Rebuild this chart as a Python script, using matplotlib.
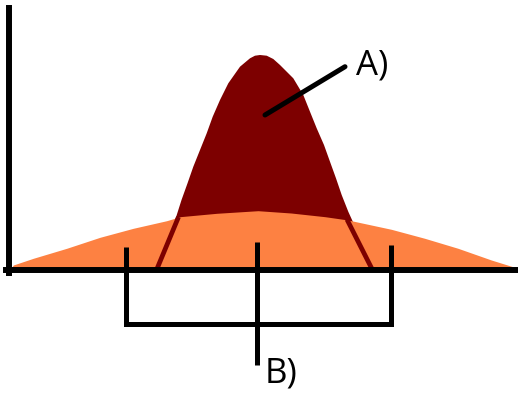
import matplotlib
matplotlib.use('Agg')
import matplotlib.pyplot as plt

# ==== values (origin at the corner of the axes) ====
# broad curve (orange)
orange_x = [3, 4.3, 24.3, 57.7, 91, 124.3, 157.7, 171, 207.7, 249, 282, 316, 339,
            382.3, 415.7, 449, 482.3, 509]
orange_y = [3, 5, 11.7, 21.7, 32.7, 41.7, 49.3, 53.3, 56.7, 59.3, 57, 53.3, 50,
            40.7, 31.7, 21.7, 10, 1.7]

# narrow curve (dark red), left leg -> peak -> right leg
red_x = [145.5, 157.7, 167.2, 172.5, 178.5, 184.3, 191, 197.7, 203.7, 211, 219.3, 231,
         241, 246, 251, 257.7, 264.3, 271, 284.3, 294.3, 301, 307.7, 315, 321, 327,
         332.7, 339.3, 365.7]
red_y = [0, 30, 53.3, 70, 86.7, 103.3, 120, 136.7, 153.3, 170, 186.7, 203.3,
         211.7, 214.3, 215, 214.3, 211, 205, 191.7, 175, 158.3, 141.7, 125, 108.3,
         91.7, 75, 58.3, 0]

# the legs of the dark curve where they cross the orange (centre lines)
left_leg_x = [147.5, 169.5]
left_leg_y = [0, 53]
right_leg_x = [363.5, 338]
right_leg_y = [0, 50.5]

# bracket under the axis and its stem
bracket_x = [116.7, 116.7, 381.5, 381.5]
bracket_y = [23.3, -54, -54, 25]
stem_x = [247.5, 247.5]
stem_y = [28.3, -95]

# pointer for label A
pointer_x = [256, 336]
pointer_y = [155, 203.3]

labels = ['A)', 'B)']
label_x = [347, 256]
label_y = [196, -113]

maroon = '#7d0000'
orange = '#fd8142'

fig = plt.figure(figsize=(5.18, 3.94), dpi=100)
ax = fig.add_axes([0, 0, 1, 1])
ax.set_xlim(-9, 509)
ax.set_ylim(-124, 270)

# ==== curves ====
ax.fill(red_x, red_y, color=maroon, lw=0, zorder=1)
ax.fill_between(orange_x, orange_y, 0, color=orange, lw=0, zorder=2)
# only the legs show as strokes over the orange
ax.plot(left_leg_x, left_leg_y, color=maroon, lw=3.4, solid_capstyle='butt', zorder=3)
ax.plot(right_leg_x, right_leg_y, color=maroon, lw=3.4, solid_capstyle='butt', zorder=3)

# ==== axes drawn as an L ====
for s in ['top', 'right']:
    ax.spines[s].set_visible(False)
for s in ['left', 'bottom']:
    ax.spines[s].set_position(('data', 0))
    ax.spines[s].set_linewidth(4.3)
    ax.spines[s].set_color('black')
    ax.spines[s].set_zorder(4)
ax.spines['left'].set_bounds(-3, 262)
ax.spines['bottom'].set_bounds(-3, 509)
ax.set_xticks([])
ax.set_yticks([])
ax.patch.set_alpha(0)

# ==== bracket, pointer, labels ====
ax.plot(bracket_x, bracket_y, color='black', lw=3.6, solid_joinstyle='miter',
        solid_capstyle='butt', zorder=5, clip_on=False)
ax.plot(stem_x, stem_y, color='black', lw=3.6, solid_capstyle='butt', zorder=5)
ax.plot(pointer_x, pointer_y, color='black', lw=3.6, solid_capstyle='round', zorder=5)

for lab, x, y in zip(labels, label_x, label_y):
    ax.text(x, y, lab, fontsize=25, family='Open Sans', ha='left', va='baseline',
            color='black', zorder=6)

fig.savefig('out.png', dpi=100)
